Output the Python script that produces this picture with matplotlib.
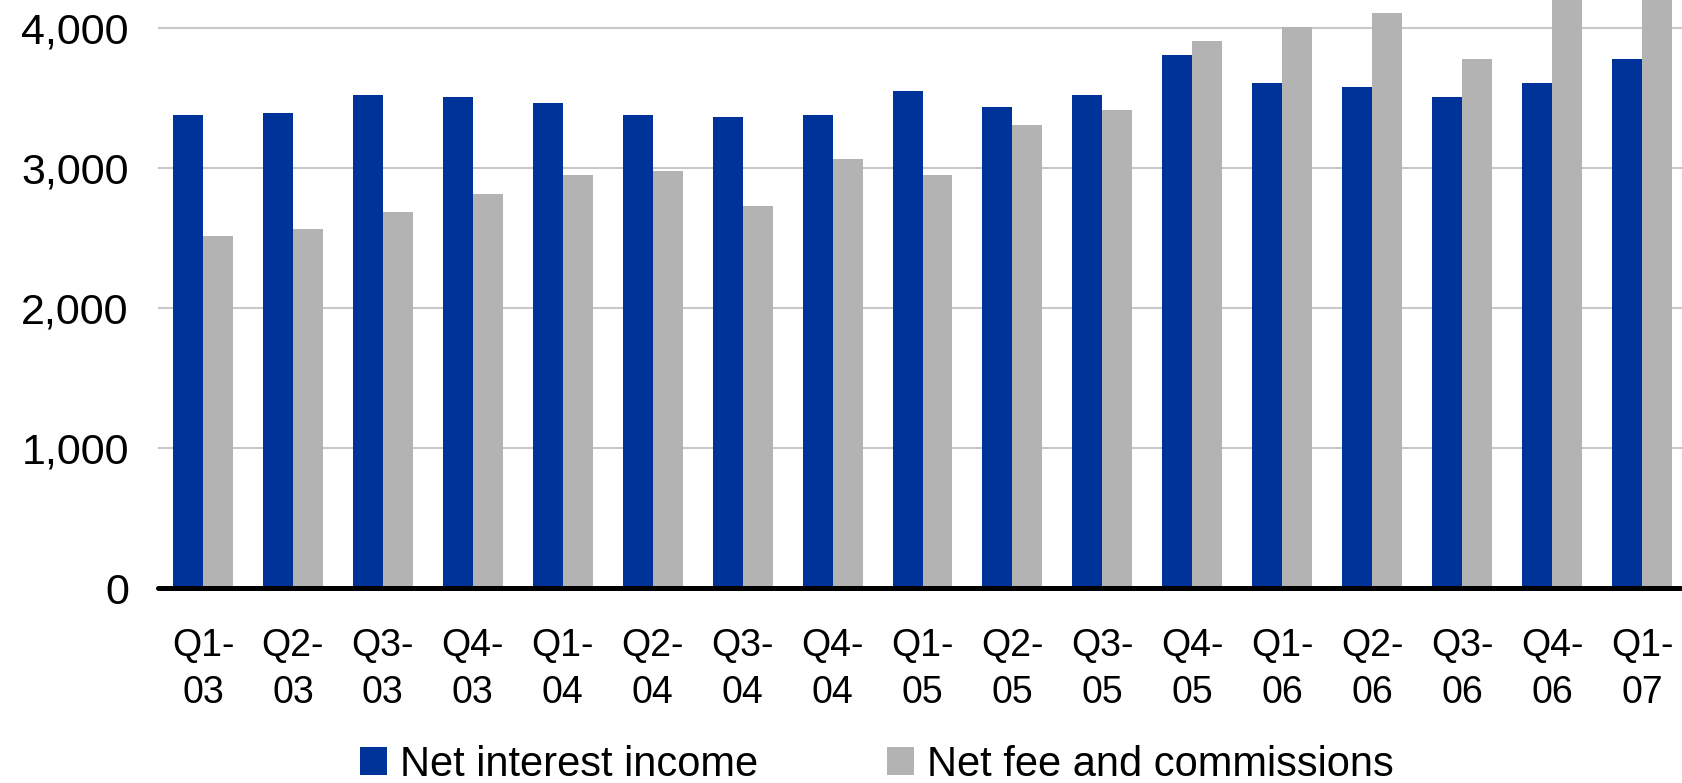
import numpy as np
from matplotlib import pyplot as plt

plt.rcParams['font.family'] = ['Liberation Sans', 'DejaVu Sans']

quarters = ["Q1-\n03", "Q2-\n03", "Q3-\n03", "Q4-\n03",
            "Q1-\n04", "Q2-\n04", "Q3-\n04", "Q4-\n04",
            "Q1-\n05", "Q2-\n05", "Q3-\n05", "Q4-\n05",
            "Q1-\n06", "Q2-\n06", "Q3-\n06", "Q4-\n06",
            "Q1-\n07"]

# EUR millions
net_interest = [3379, 3391, 3520, 3505, 3462, 3379, 3362, 3379, 3548,
                3434, 3520, 3805, 3606, 3578, 3506, 3606, 3778]
net_fees = [2515, 2561, 2687, 2816, 2947, 2976, 2730, 3062, 2947,
            3305, 3417, 3907, 4010, 4107, 3778, 4450, 4350]

blue = "#003399"
grey = "#b3b3b3"

W, H = 1682, 783
fig = plt.figure(figsize=(W / 100, H / 100), dpi=100)
# plot area runs a little past the right edge of the figure
left, right, bottom = 158, 1687, 588
ax = fig.add_axes([left / W, 1 - bottom / H, (right - left) / W, bottom / H])

x = np.arange(len(quarters))
w = 1 / 3
b1 = ax.bar(x - w / 2, net_interest, width=w, color=blue, zorder=3,
            label="Net interest income")
b2 = ax.bar(x + w / 2, net_fees, width=w, color=grey, zorder=3,
            label="Net fee and commissions")

ax.set_xlim(-0.5, len(quarters) - 0.5)
ax.set_ylim(0, 4200)
ax.set_yticks([0, 1000, 2000, 3000, 4000])
ax.set_yticklabels([f"{v:,}" for v in [0, 1000, 2000, 3000, 4000]])
ax.set_xticks(x)
ax.set_xticklabels(quarters, linespacing=1.38)

ax.tick_params(axis='y', length=0, pad=21, labelsize=31)
ax.tick_params(axis='x', length=0, pad=29, labelsize=27)

ax.grid(axis='y', color="#c8c8c8", linewidth=1.5, zorder=0)
for s in ['left', 'top', 'right']:
    ax.spines[s].set_visible(False)
ax.spines['bottom'].set_linewidth(3.6)
ax.spines['bottom'].set_color("black")
ax.spines['bottom'].set_capstyle('round')
ax.spines['bottom'].set_zorder(4)

fig.legend(handles=[b1, b2], loc='center left',
           bbox_to_anchor=(360 / W, 1 - 765 / H), ncol=2, frameon=False,
           fontsize=30, handlelength=0.65, handleheight=0.65,
           handletextpad=0.31, columnspacing=3.1, borderpad=0,
           borderaxespad=0)

fig.savefig("out.png", dpi=100)
